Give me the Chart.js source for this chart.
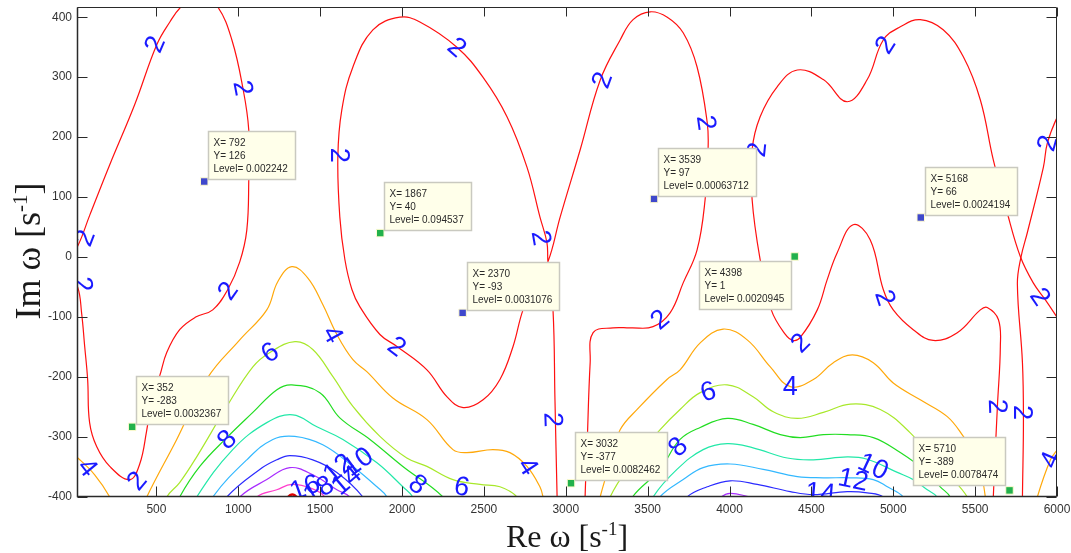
<!DOCTYPE html>
<html>
<head>
<meta charset="utf-8">
<script src="https://cdn.jsdelivr.net/npm/chart.js@4.4.1/dist/chart.umd.min.js"></script>
<style>
html,body{margin:0;padding:0;background:#fff;}
#wrap{width:1071px;height:553px;position:relative;}
</style>
</head>
<body>
<div id="wrap"><canvas id="c"></canvas></div>
<script>
// ---------- axis ticks ----------
const xTicks = [500,1000,1500,2000,2500,3000,3500,4000,4500,5000,5500,6000];
const yTicks = [-400,-300,-200,-100,0,100,200,300,400];
const xRange = [15, 6000];
const yRange = [-400, 417];

// ---------- contour lines (Re, Im) ----------
const level2_left = [[-60,-10],[19,-50],[43,-93],[62,-149],[80,-204],[92,-276],[135,-316],[215,-349],[337,-371],[398,-345],[440,-290],[475,-232],[520,-198],[563,-159],[642,-121],[740,-100],[844,-88],[936,-54],[1009,-8],[1052,45],[1064,129],[1064,212],[1028,282],[961,362],[875,417],[765,442],[649,417],[582,392],[502,354],[367,254],[215,154],[93,70],[13,15],[-60,-10]];
const level2_mid = [[2950,-430],[2947,-400],[2934,-238],[2922,-88],[2891,-8],[2885,24],[2842,67],[2763,150],[2641,234],[2494,300],[2335,350],[2109,392],[1987,400],[1822,379],[1700,317],[1632,245],[1608,167],[1620,67],[1651,-4],[1694,-54],[1743,-83],[1865,-129],[1969,-149],[2152,-188],[2275,-233],[2373,-251],[2495,-238],[2598,-204],[2678,-149],[2739,-88],[2812,-46],[2891,-8],[2966,67],[3088,179],[3210,295],[3332,362],[3411,396],[3516,409],[3620,400],[3717,374],[3802,317],[3864,224],[3869,179],[3851,96],[3802,12],[3717,-43],[3637,-93],[3533,-116],[3400,-118],[3289,-118],[3167,-126],[3149,-176],[3130,-316],[3118,-400],[3118,-430]];
const level2_right = [[5611,-430],[5611,-400],[5636,-249],[5654,-149],[5642,-104],[5574,-84],[5532,-88],[5391,-126],[5244,-139],[5122,-121],[5000,-88],[4939,-54],[4859,29],[4755,54],[4657,7],[4596,-38],[4536,-88],[4432,-134],[4389,-139],[4341,-129],[4255,-88],[4187,-4],[4138,96],[4138,179],[4187,234],[4291,284],[4414,312],[4573,296],[4719,259],[4841,296],[4939,362],[5043,384],[5165,396],[5305,379],[5428,334],[5532,262],[5611,162],[5696,74],[5776,1],[5855,-43],[5928,-71],[6002,-101],[6112,-146]];
const level2_edge = [[6112,290],[6002,234],[5941,190],[5917,150],[5819,41],[5780,0],[5758,-45],[5789,-176],[5795,-271],[5789,-400],[5789,-430]];

const level4_a = [[-30,-325],[20,-335],[123,-363],[215,-400],[240,-420]];
const level4_b = [[420,-420],[441,-400],[624,-304],[813,-201],[1009,-138],[1174,-88],[1241,-41],[1327,-16],[1425,-35],[1516,-79],[1602,-129],[1700,-171],[1785,-191],[1944,-235],[2152,-271],[2311,-321],[2396,-326],[2555,-321],[2659,-326],[2763,-349],[2842,-383],[2861,-400],[2870,-420]];
const level4_c = [[3200,-420],[3210,-400],[3271,-343],[3332,-288],[3436,-254],[3618,-204],[3698,-188],[3821,-143],[3961,-120],[4108,-138],[4249,-183],[4371,-216],[4512,-204],[4634,-176],[4750,-163],[4878,-176],[5000,-210],[5165,-238],[5330,-266],[5428,-299],[5489,-326],[5544,-371],[5562,-400],[5565,-420]];
const level4_d = [[5870,-420],[5880,-400],[5960,-338],[6002,-321],[6060,-300]];

const level6_a = [[550,-420],[563,-400],[642,-376],[746,-333],[930,-249],[1089,-183],[1193,-159],[1346,-141],[1455,-154],[1577,-199],[1700,-249],[1865,-299],[2029,-335],[2152,-349],[2311,-371],[2476,-379],[2598,-383],[2702,-400],[2720,-420]];
const level6_b = [[3260,-420],[3271,-400],[3375,-354],[3575,-288],[3698,-254],[3821,-226],[3986,-213],[4144,-233],[4267,-258],[4414,-269],[4573,-259],[4738,-245],[4921,-254],[5104,-293],[5226,-333],[5348,-366],[5452,-400],[5465,-420]];

const level8_a = [[620,-420],[642,-400],[765,-349],[930,-301],[1089,-259],[1236,-221],[1327,-213],[1498,-226],[1620,-268],[1804,-304],[2005,-349],[2250,-400],[2270,-420]];
const level8_b = [[3395,-420],[3407,-400],[3575,-354],[3698,-304],[3821,-284],[3986,-269],[4144,-279],[4310,-296],[4432,-301],[4573,-296],[4719,-296],[4878,-301],[5043,-326],[5208,-359],[5287,-383],[5348,-400],[5360,-420]];

const level10_a = [[730,-420],[746,-400],[966,-321],[1174,-276],[1333,-263],[1480,-283],[1639,-304],[1847,-343],[2005,-383],[2066,-400],[2080,-420]];
const level10_b = [[3520,-420],[3533,-400],[3679,-354],[3839,-321],[3986,-311],[4144,-318],[4353,-335],[4512,-338],[4719,-333],[4841,-337],[5025,-359],[5122,-371],[5208,-388],[5268,-400],[5280,-420]];

const level12_a = [[830,-420],[844,-400],[1052,-338],[1211,-304],[1345,-299],[1516,-313],[1700,-349],[1847,-383],[1908,-400],[1920,-420]];
const level12_b = [[3560,-420],[3575,-400],[3717,-371],[3839,-351],[4004,-345],[4206,-354],[4414,-366],[4573,-368],[4738,-368],[4878,-371],[4964,-383],[5061,-400],[5075,-420]];

const level14_a = [[915,-420],[930,-400],[1131,-354],[1235,-338],[1315,-331],[1455,-338],[1602,-359],[1761,-400],[1775,-420]];
const level14_b = [[3720,-420],[3741,-400],[3864,-383],[4004,-373],[4169,-379],[4371,-391],[4512,-396],[4719,-391],[4841,-393],[4939,-400],[4960,-420]];

const level16_a = [[995,-420],[1009,-400],[1174,-371],[1315,-351],[1455,-363],[1602,-388],[1681,-400],[1700,-420]];
const level16_b = [[3925,-410],[3943,-401],[4004,-394],[4126,-400],[4187,-403],[4200,-410]];

const level18_a = [[1100,-420],[1113,-400],[1235,-388],[1327,-379],[1450,-386],[1529,-400],[1545,-420]];
const level20_a = [[1280,-410],[1300,-401],[1330,-396],[1360,-401],[1380,-410]];

// ---------- contour level labels ----------
const labelText  = ['2','2','2','2','2','2','4','2','2','2','2','2','2','2','2','2','2','2','2','2','2','2','2','4','4','4','4','6','6','6','8','8','8','10','12','14','10','12','14','16','18'];
const labelX     = [490,1028,62,50,936,380,80,1620,2335,1969,2849,3222,3857,2922,3575,4169,4432,4951,4951,5941,5898,5636,5789,1577,2769,4371,5960,1193,2366,3870,930,2097,3685,4878,4756,4555,1731,1610,1660,1407,1490];
const labelY     = [355,282,32,-46,-56,-373,-351,170,350,-149,32,295,224,-271,-104,179,-143,354,-68,190,-66,-249,-259,-129,-349,-216,-338,-159,-383,-224,-304,-379,-316,-349,-371,-393,-341,-352,-372,-384,-388];
const labelAngle = [-67,79,-69,81,-55,-50,51,90,41,37,80,-70,82,88,-40,-84,-45,-58,72,-74,56,88,90,61,57,0,-67,-33,10,-16,-45,36,-46,25,12,5,-36,-40,-40,-20,-30];

// ---------- data tips ----------
const tipX     = [792, 352, 1867, 2370, 3032, 3539, 4398, 5168, 5710];
const tipY     = [126, -283, 40, -93, -377, 97, 1, 66, -389];
const tipLevel = ['0.002242','0.0032367','0.094537','0.0031076','0.0082462','0.00063712','0.0020945','0.0024194','0.0078474'];
const tipGroup = ['b','g','g','b','g','b','g','b','g'];
const tipSide  = ['ne','ne','ne','ne','ne','ne','sw','ne','nw'];

// ---------- build ----------
const levelColor = {2:'#ff1010',4:'#ffa80a',6:'#a8e82a',8:'#22dd22',10:'#22e8a8',12:'#33b8ff',14:'#2a2aff',16:'#a82cff',18:'#ff3ccc',20:'#e00000'};
const contours = [
  [2,level2_left],[2,level2_mid],[2,level2_right],[2,level2_edge],
  [4,level4_a],[4,level4_b],[4,level4_c],[4,level4_d],
  [6,level6_a],[6,level6_b],[8,level8_a],[8,level8_b],
  [10,level10_a],[10,level10_b],[12,level12_a],[12,level12_b],
  [14,level14_a],[14,level14_b],[16,level16_a],[16,level16_b],
  [18,level18_a],[20,level20_a]
];
const toPts = a => a.map(p => ({x:p[0], y:p[1]}));
const datasets = contours.map(([lv, arr]) => ({
  data: toPts(arr), showLine: true, borderColor: levelColor[lv],
  borderWidth: lv === 20 ? 2.5 : 1.2, pointRadius: 0, tension: 0.4, fill: false
}));
const bluePts = [], greenPts = [];
tipX.forEach((v,i) => (tipGroup[i]==='b'?bluePts:greenPts).push({x:v, y:tipY[i]}));
datasets.push({data: bluePts, showLine:false, pointStyle:'rect', pointRadius:5.3, backgroundColor:'#3f48cc', borderColor:'#fffbd0', borderWidth:1});
datasets.push({data: greenPts, showLine:false, pointStyle:'rect', pointRadius:5.3, backgroundColor:'#22b14c', borderColor:'#fffbd0', borderWidth:1});

function drawMixed(ctx, parts, mainFont, supFont, raise) {
  let w = 0;
  parts.forEach(p => { ctx.font = p.sup ? supFont : mainFont; w += ctx.measureText(p.t).width; });
  let x = -w/2;
  parts.forEach(p => {
    ctx.font = p.sup ? supFont : mainFont;
    ctx.fillText(p.t, x, p.sup ? -raise : 0);
    x += ctx.measureText(p.t).width;
  });
}

const decor = {
  id: 'decor',
  afterDatasetsDraw(chart) {
    const {ctx, chartArea: a, scales: {x, y}} = chart;
    // contour labels
    ctx.save();
    ctx.beginPath(); ctx.rect(a.left, a.top, a.right - a.left, a.bottom - a.top); ctx.clip();
    ctx.font = '27px "Liberation Sans", Arial, sans-serif';
    ctx.fillStyle = '#1a1aff'; ctx.textAlign = 'center'; ctx.textBaseline = 'middle';
    labelText.forEach((t, i) => {
      ctx.save();
      ctx.translate(x.getPixelForValue(labelX[i]), y.getPixelForValue(labelY[i]));
      ctx.rotate(labelAngle[i] * Math.PI / 180);
      ctx.fillText(t, 0, 1);
      ctx.restore();
    });
    ctx.restore();

    // frame and inward ticks
    ctx.save();
    ctx.strokeStyle = '#2a2a2a'; ctx.lineWidth = 1;
    const L = Math.round(a.left) + 0.5, R = Math.round(a.right) - 0.5, T = Math.round(a.top) + 0.5, B = Math.round(a.bottom) - 0.5;
    ctx.beginPath();
    ctx.moveTo(L, T); ctx.lineTo(R, T); ctx.lineTo(R, B); ctx.lineTo(L, B); ctx.closePath();
    xTicks.forEach(v => { const px = Math.round(x.getPixelForValue(v)) + 0.5; ctx.moveTo(px, B); ctx.lineTo(px, B - 10); ctx.moveTo(px, T); ctx.lineTo(px, T + 9); });
    yTicks.forEach(v => { const py = Math.round(y.getPixelForValue(v)) + 0.5; ctx.moveTo(L, py); ctx.lineTo(L + 10, py); ctx.moveTo(R, py); ctx.lineTo(R - 10, py); });
    ctx.stroke();
    ctx.beginPath(); ctx.lineWidth = 1.5; ctx.moveTo(L, T); ctx.lineTo(L, B); ctx.lineTo(R, B); ctx.stroke();
    ctx.restore();

    // data tips
    ctx.save();
    ctx.font = '10px "Liberation Sans", Arial, sans-serif';
    ctx.textAlign = 'left'; ctx.textBaseline = 'middle';
    tipX.forEach((vx, i) => {
      const px = x.getPixelForValue(vx), py = y.getPixelForValue(tipY[i]);
      const lines = ['X= ' + vx, 'Y= ' + tipY[i], 'Level= ' + tipLevel[i]];
      const w = Math.ceil(Math.max(...lines.map(s => ctx.measureText(s).width))) + 12;
      const h = 48;
      let bx, by;
      if (tipSide[i] === 'ne') { bx = px + 4; by = py - 3 - h; }
      else if (tipSide[i] === 'sw') { bx = px - 4 - w; by = py + 5; }
      else { bx = px - 5 - w; by = py - 5 - h; }
      bx = Math.round(bx) + 0.5; by = Math.round(by) + 0.5;
      ctx.fillStyle = '#ffffea'; ctx.fillRect(bx, by, w, h);
      ctx.strokeStyle = '#c9c9c0'; ctx.lineWidth = 1.5; ctx.strokeRect(bx, by, w, h);
      ctx.fillStyle = '#2a2a2a';
      lines.forEach((s, k) => ctx.fillText(s, bx + 5, by + 12 + k * 13));
    });
    ctx.restore();
  },
  afterDraw(chart) {
    const {ctx, chartArea: a} = chart;
    ctx.save();
    ctx.fillStyle = '#1a1a1a'; ctx.textAlign = 'left'; ctx.textBaseline = 'alphabetic';
    ctx.save();
    ctx.translate((a.left + a.right) / 2, 547);
    drawMixed(ctx, [{t:'Re \u03C9 [s'},{t:'-1',sup:true},{t:']'}], '32px "Liberation Serif", "Times New Roman", serif', '19px "Liberation Serif", "Times New Roman", serif', 12);
    ctx.restore();
    ctx.save();
    ctx.translate(40, 251);
    ctx.rotate(-Math.PI / 2);
    drawMixed(ctx, [{t:'Im \u03C9 [s'},{t:'-1',sup:true},{t:']'}], '36px "Liberation Serif", "Times New Roman", serif', '21px "Liberation Serif", "Times New Roman", serif', 13);
    ctx.restore();
    ctx.restore();
  }
};

const tickFont = { size: 12, family: '"Liberation Sans", Arial, sans-serif' };
new Chart(document.getElementById('c'), {
  type: 'scatter',
  data: { datasets },
  options: {
    responsive: true, maintainAspectRatio: false, animation: false,
    layout: { padding: { left: 0, right: 14, top: 7, bottom: 0 } },
    plugins: { legend: { display: false }, tooltip: { enabled: false } },
    scales: {
      x: {
        type: 'linear', min: xRange[0], max: xRange[1],
        afterBuildTicks: ax => { ax.ticks = xTicks.map(v => ({value: v})); },
        afterFit: s => { s.height = 56; s.paddingLeft = 0; s.paddingRight = 0; },
        grid: { display: false, drawTicks: false }, border: { display: false },
        ticks: { padding: 5, color: '#333', font: tickFont, maxRotation: 0, autoSkip: false, callback: v => String(v) }
      },
      y: {
        type: 'linear', min: yRange[0], max: yRange[1],
        afterBuildTicks: ax => { ax.ticks = yTicks.map(v => ({value: v})); },
        afterFit: s => { s.width = 77; s.paddingTop = 0; s.paddingBottom = 0; },
        grid: { display: false, drawTicks: false }, border: { display: false },
        ticks: { padding: 5, color: '#333', font: tickFont, autoSkip: false, callback: v => String(v) }
      }
    }
  },
  plugins: [decor]
});
</script>
</body>
</html>
